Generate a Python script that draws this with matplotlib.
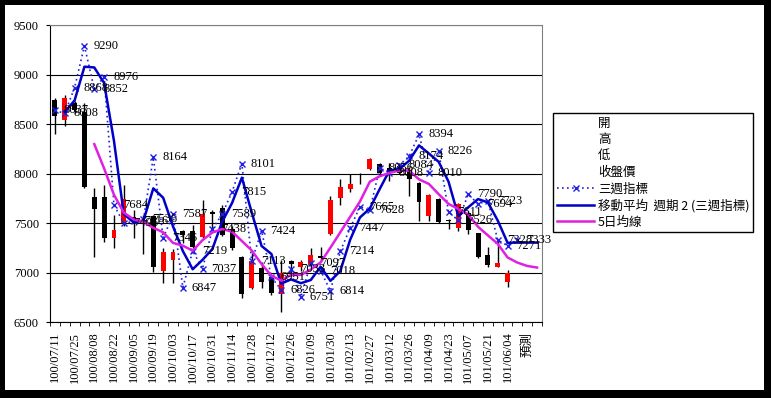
import numpy as np
import matplotlib
matplotlib.use('Agg')
from matplotlib import pyplot as plt
from matplotlib.lines import Line2D
from matplotlib.patches import Rectangle

plt.rcParams['font.family'] = ['Liberation Serif', 'Noto Sans CJK TC', 'DejaVu Sans']

n_weeks = 50
tick_labels = ['100/07/11', '100/07/25', '100/08/08', '100/08/22', '100/09/05',
               '100/09/19', '100/10/03', '100/10/17', '100/10/31', '100/11/14',
               '100/11/28', '100/12/12', '100/12/26', '101/01/09', '101/01/30',
               '101/02/13', '101/02/27', '101/03/12', '101/03/26', '101/04/09',
               '101/04/23', '101/05/07', '101/05/21', '101/06/04', '預測']

# weekly OHLC (first 47 weeks)
opens = [8743, 8545, 8710, 8620, 7760, 7760, 7352, 7500, 7560, 7530,
         7570, 7015, 7130, 7420, 7420, 7355, 7610, 7650, 7440, 7160,
         6840, 7050, 6955, 6785, 7120, 7060, 7090, 7170, 7385, 7755,
         7840, 7955, 8045, 8100, 8060, 8080, 8040, 7905, 7575, 7745,
         7525, 7445, 7600, 7395, 7175, 7060, 6905]
highs = [8766, 8794, 8730, 8710, 7850, 7880, 7580, 7880, 7630, 7580,
         7580, 7245, 7240, 7430, 7480, 7735, 7630, 7680, 7470, 7170,
         7200, 7110, 6990, 7125, 7130, 7130, 7245, 7255, 7775, 7945,
         8000, 8010, 8160, 8110, 8110, 8110, 8065, 7915, 7790, 7750,
         7545, 7700, 7620, 7400, 7260, 7340, 7030]
lows = [8404, 8482, 8610, 7850, 7160, 7310, 7250, 7470, 7350, 7190,
        7005, 6890, 6890, 7300, 7230, 7345, 7430, 7370, 7230, 6740,
        6830, 6840, 6770, 6605, 6990, 7020, 7060, 7120, 7380, 7680,
        7810, 7890, 8040, 7990, 7920, 7990, 7770, 7525, 7525, 7500,
        7440, 7420, 7390, 7150, 7055, 7055, 6855]
closes = [8582, 8760, 8640, 7860, 7645, 7350, 7432, 7740, 7520, 7510,
          7055, 7205, 7205, 7380, 7255, 7590, 7590, 7380, 7245, 6785,
          7115, 6905, 6790, 6990, 7085, 7110, 7175, 7150, 7735, 7860,
          7890, 7950, 8150, 8010, 8030, 8010, 7945, 7710, 7780, 7510,
          7520, 7690, 7430, 7160, 7075, 7095, 7000]

# 三週指標 (labelled points)
tri_week = [8637, 8608, 8868, 9290, 8852, 8976, 7684, 7496, 7516, 7536,
            8164, 7346, 7587, 6847, 7219, 7037, 7438, 7589, 7815, 8101,
            7113, 7424, 6951, 6826, 7033, 6751, 7097, 7018, 6814, 7214,
            7447, 7665, 7628, 8056, 8008, 8084, 8174, 8394, 8010, 8226,
            7611, 7526, 7790, 7694, 7723, 7328, 7271, 7333]

# 移動平均 週期2 (三週指標)
ma_tri = [np.nan, 8622, 8738, 9079, 9071, 8914, 8330, 7590, 7506, 7526,
          7850, 7755, 7466, 7217, 7033, 7128, 7237, 7513, 7702, 7958,
          7607, 7268, 7187, 6888, 6930, 6892, 6924, 7058, 6916, 7014,
          7330, 7556, 7646, 7842, 8032, 8046, 8129, 8284, 8202, 8118,
          7918, 7568, 7658, 7742, 7708, 7525, 7300, 7302, 7302, 7302]

# 5日均線
ma5 = [np.nan, np.nan, np.nan, np.nan, 8297, 8051, 7785, 7605, 7537, 7510,
       7451, 7406, 7299, 7271, 7220, 7327, 7404, 7439, 7412, 7318,
       7223, 7086, 6968, 6917, 6977, 6976, 7030, 7102, 7251, 7406,
       7562, 7717, 7917, 7972, 8006, 8030, 8029, 7941, 7895, 7791,
       7693, 7642, 7586, 7462, 7375, 7290, 7152, 7100, 7066, 7050]

W, H = 771, 398
fig = plt.figure(figsize=(W / 100, H / 100), dpi=100, facecolor='black')
fig.patches.append(Rectangle((5 / W, 8 / H), 759 / W, 385 / H,
                             transform=fig.transFigure, facecolor='white',
                             edgecolor='none', zorder=-10))

ax = fig.add_axes([50 / W, 1 - 322 / H, 492 / W, 297 / H])
ax.set_facecolor('white')

# candles
for i in range(len(opens)):
    o, hi, lo, c = opens[i], highs[i], lows[i], closes[i]
    col = 'red' if c > o else 'black'
    ax.vlines(i, lo, hi, color='black', lw=1, zorder=2)
    ax.bar(i, max(abs(c - o), 8), bottom=min(o, c), width=0.5,
           color=col, edgecolor='none', zorder=3)

x_tri = np.arange(len(tri_week))
ax.plot(x_tri, tri_week, color='#2020E0', ls=(0, (1, 2)), lw=1.2,
        marker='x', ms=5, mew=1, zorder=4)
ax.plot(np.arange(n_weeks), ma_tri, color='#0000C8', lw=1.8, zorder=5)
ax.plot(np.arange(n_weeks), ma5, color='#E020E0', lw=1.8, zorder=5)

for i, v in enumerate(tri_week):
    ax.annotate(str(v), (i, v), xytext=(6.5, 0), textcoords='offset points',
                va='center', ha='left', fontsize=9, color='black',
                annotation_clip=False, zorder=6)

ax.set_xlim(-0.5, n_weeks - 0.5)
ax.set_ylim(6500, 9500)
ax.set_yticks(range(6500, 9501, 500))
ax.yaxis.grid(True, color='black', lw=0.8)
ax.set_axisbelow(True)
ax.tick_params(axis='y', length=3, pad=5, labelsize=9, color='black')

ax.set_xticks(np.arange(0, n_weeks, 2))
ax.set_xticklabels(tick_labels, rotation=90, fontsize=9)
ax.set_xticks(np.arange(-0.5, n_weeks, 1), minor=True)
ax.tick_params(axis='x', which='major', length=0, pad=7)
ax.tick_params(axis='x', which='minor', length=3, color='black')

for side in ['top', 'right']:
    ax.spines[side].set_color('#808080')
for side in ['left', 'bottom']:
    ax.spines[side].set_color('black')

handles = [Line2D([], [], color='none') for _ in range(4)]
handles += [
    Line2D([], [], color='#2020E0', ls=(0, (1, 2)), lw=1.2, marker='x', ms=5),
    Line2D([], [], color='#0000C8', lw=1.8),
    Line2D([], [], color='#E020E0', lw=1.8),
]
labels = ['開', '高', '低', '收盤價', '三週指標', '移動平均  週期 2 (三週指標)', '5日均線']
leg = fig.legend(handles, labels, loc='upper left',
                 bbox_to_anchor=(553 / W, 1 - 113 / H), borderaxespad=0,
                 prop={'family': ['Noto Sans CJK TC'], 'size': 9},
                 handlelength=3.0, handletextpad=0.3, labelspacing=0.27,
                 borderpad=0.3, fancybox=False, framealpha=1,
                 edgecolor='black')
leg.get_frame().set_linewidth(1)

fig.savefig('out.png', dpi=100, facecolor='black')
